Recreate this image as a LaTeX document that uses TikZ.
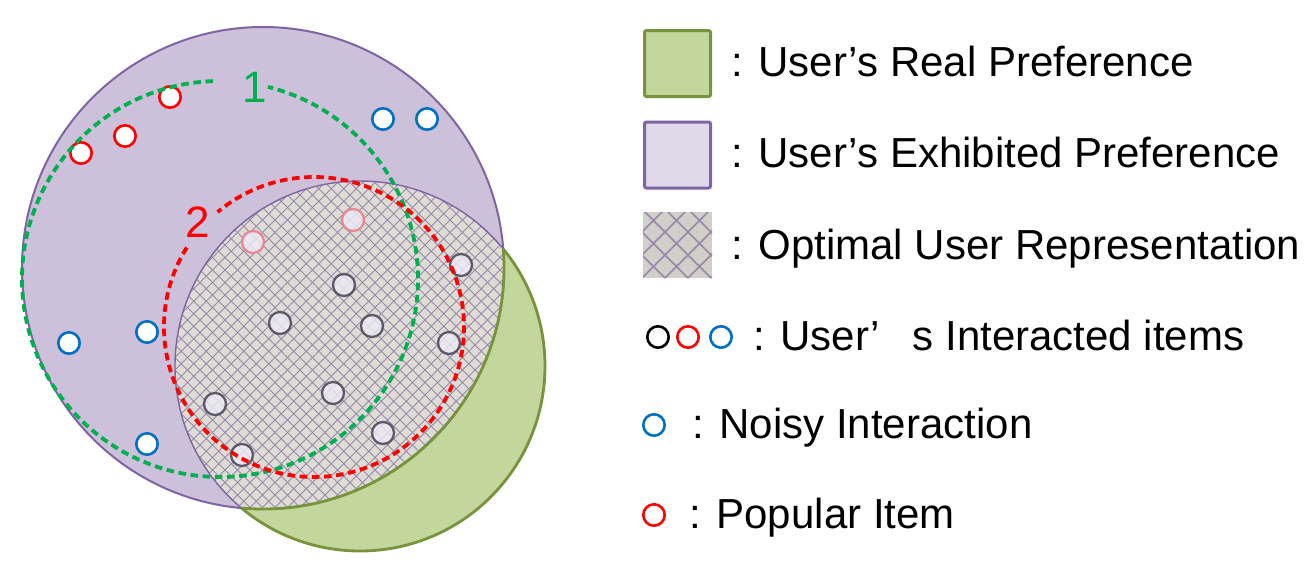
\documentclass[tikz,border=0pt]{standalone}
\usepackage{fontspec}
\setmainfont{Liberation Sans}
\usepackage{tikz}

\definecolor{greenfill}{RGB}{195,214,155}
\definecolor{greenline}{RGB}{119,147,60}
\definecolor{purplefill}{RGB}{204,192,218}
\definecolor{purplelight}{RGB}{223,217,233}
\definecolor{purpleline}{RGB}{128,100,162}
\definecolor{hatchbg}{RGB}{222,220,212}
\definecolor{hatchline}{RGB}{150,137,172}
\definecolor{dashgreen}{RGB}{0,176,80}
\definecolor{noisyblue}{RGB}{0,112,192}
\definecolor{itemgray}{RGB}{80,76,92}
\definecolor{itemfill}{RGB}{238,235,246}
\definecolor{fadedred}{RGB}{232,128,140}

\tikzset{
	itemdot/.style={circle,draw=#1,line width=1.3pt,fill=white,minimum size=10.7pt,inner sep=0pt},
	userdot/.style={circle,draw=#1,draw opacity=0.9,line width=1.15pt,fill=itemfill,fill opacity=0.8,minimum size=11pt,inner sep=0pt},
	legendbox/.style={draw=#1,line width=1.5pt,rounded corners=1pt,minimum size=33pt,inner sep=0pt},
	legendtext/.style={anchor=base west,inner sep=0pt,font=\fontsize{21}{25}\selectfont},
	ringlabel/.style={inner sep=0pt,font=\fontsize{22}{26}\selectfont},
	ringdash/.style={line width=1.9pt,dash pattern=on 3.8pt off 2.3pt}
}

\begin{document}
\begin{tikzpicture}[x=0.5pt,y=0.5pt]
	\useasboundingbox (0,0) rectangle (1314,570);
	% the two preferences
	\fill[greenfill] (360,204) circle (185);
	\draw[greenline,line width=1.4pt] (360,204) circle (185);
	\filldraw[fill=purplefill,draw=purpleline,line width=1pt] (263,302) circle (241);
	% overlap = optimal representation
	\begin{scope}
		\clip (263,302) circle (241);
		\clip (360,204) circle (185);
		\fill[hatchbg] (0,0) rectangle (600,570);
		\foreach \c in {-400,-387.5,...,600} {
			\draw[hatchline,line width=0.45pt] (\c,0) -- ++(600,600);
			\draw[hatchline,line width=0.45pt] (\c+600,0) -- ++(-600,600);
		}
	\end{scope}
	\begin{scope}
		\clip (263,302) circle (241);
		\draw[purpleline,line width=0.7pt] (360,204) circle (185);
	\end{scope}
	\begin{scope}
		\clip (360,204) circle (185);
		\draw[greenline,line width=1.4pt] (263,302) circle (241);
	\end{scope}

	% interacted items
	\foreach \x/\y [count=\i] in {461/305,344/285,280/247,372/244,449/227,333/177,215/166,383/137,242/115}
		\node[userdot=itemgray] (user\i) at (\x,\y) {};
	\node[userdot=fadedred] (fade1) at (253,328) {};
	\node[userdot=fadedred] (fade2) at (353,350) {};
	\foreach \x/\y [count=\i] in {170/473,125/434,81/417}
		\node[itemdot=red] (pop\i) at (\x,\y) {};
	\foreach \x/\y [count=\i] in {383/451,427/451,69/227,147/238,147/126}
		\node[itemdot=noisyblue] (noisy\i) at (\x,\y) {};

	% dashed rings 1 and 2
	\draw[dashgreen,ringdash] (220,291) ++(92:198) arc[start angle=92,end angle=436,radius=198];
	\node[ringlabel,text=dashgreen] (one) at (255,483) {1};
	\draw[red,ringdash] (314,243) ++(148:150) arc[start angle=148,end angle=490,radius=150];
	\node[ringlabel,text=red] (two) at (198,348) {2};

	% legend
	\node[legendbox=greenline,fill=greenfill] (realbox) at (677.5,506.5) {};
	\node[legendtext] (real) at (731,494) {: User’s Real Preference};
	\node[legendbox=purpleline,fill=purplelight] (exhbox) at (677.5,415) {};
	\node[legendtext] (exh) at (731,403) {: User’s Exhibited Preference};
	\begin{scope}
		\clip (643,292) rectangle (712,358);
		\fill[hatchbg!94!black] (643,292) rectangle (712,358);
		\foreach \c in {550,573,...,800} {
			\draw[hatchline,line width=0.8pt] (\c,292) -- ++(100,100);
			\draw[hatchline,line width=0.8pt] (\c,292) -- ++(-100,100);
		}
	\end{scope}
	\node[legendtext] (opt) at (731,311) {: Optimal User Representation};
	\node[itemdot=black] (keyblack) at (658,233) {};
	\node[itemdot=red] (keyred) at (688,233) {};
	\node[itemdot=noisyblue] (keyblue) at (721,233) {};
	\node[legendtext] (inter) at (753,220) {: User’ \hspace{0.5em}s Interacted items};
	\node[itemdot=noisyblue] (keynoisy) at (654,145) {};
	\node[legendtext] (noisy) at (692,132) {: Noisy Interaction};
	\node[itemdot=red] (keypop) at (654,55) {};
	\node[legendtext] (pop) at (689,42) {: Popular Item};
\end{tikzpicture}
\end{document}
